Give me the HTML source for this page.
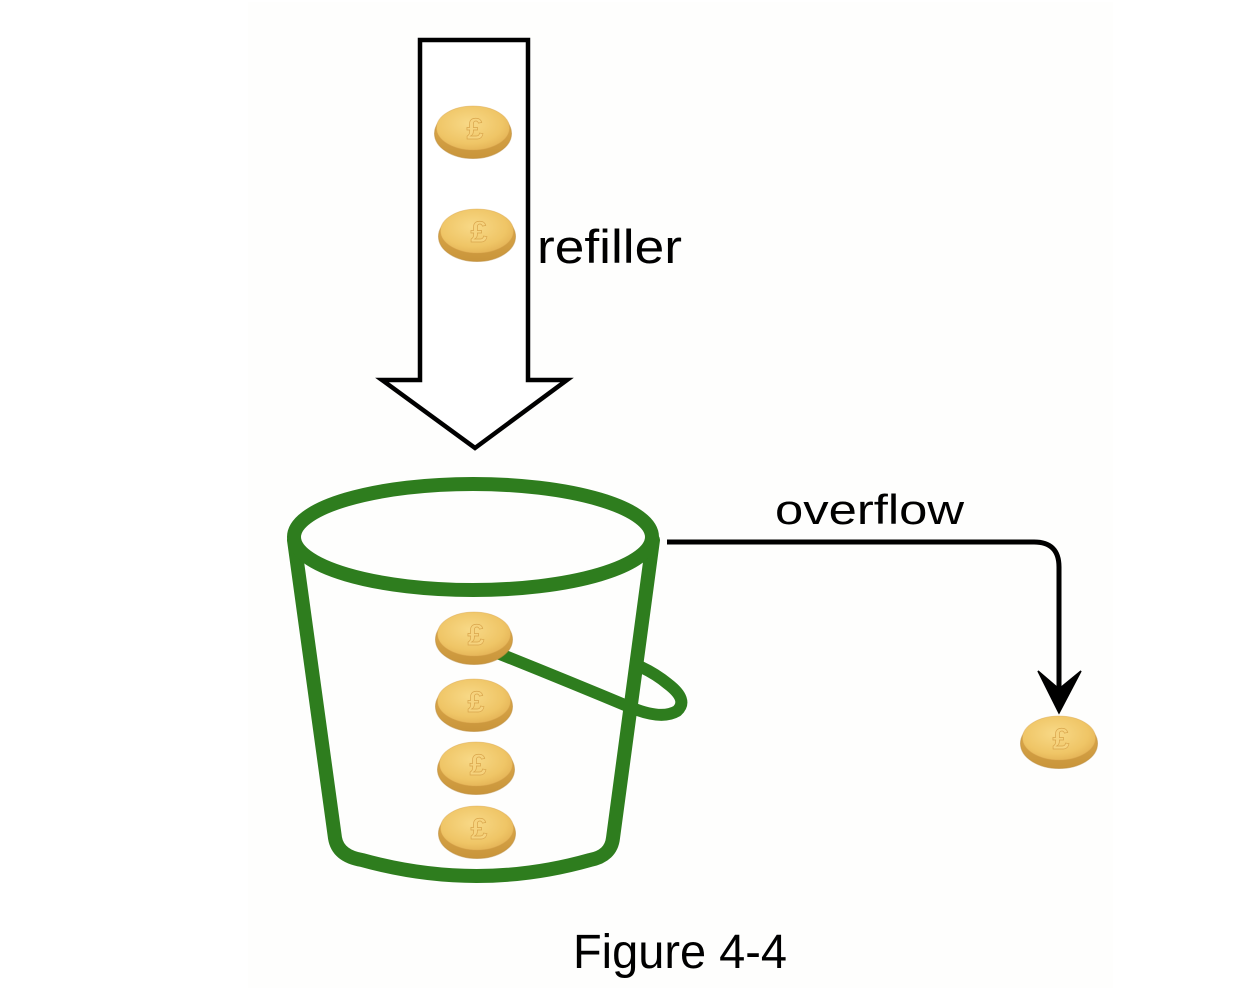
<!DOCTYPE html>
<html>
<head>
<meta charset="utf-8">
<style>
  html, body { margin: 0; padding: 0; background: #ffffff; }
  body { width: 1250px; height: 1000px; overflow: hidden; }
  svg { display: block; }
  text { font-family: "Liberation Sans", Arial, sans-serif; fill: #000; }
</style>
</head>
<body>
<svg width="1250" height="1000" viewBox="0 0 1250 1000" xmlns="http://www.w3.org/2000/svg">
  <defs>
    <radialGradient id="face" cx="45%" cy="40%" r="65%">
      <stop offset="0%" stop-color="#f8d987"/>
      <stop offset="70%" stop-color="#efc566"/>
      <stop offset="100%" stop-color="#e3b154"/>
    </radialGradient>
    <linearGradient id="edge" x1="0" y1="0" x2="0" y2="1">
      <stop offset="0%" stop-color="#e0ad4e"/>
      <stop offset="100%" stop-color="#c9953b"/>
    </linearGradient>
    <g id="coin">
      <ellipse cx="0" cy="3.5" rx="38.5" ry="25" fill="url(#edge)" stroke="#b98a3a" stroke-opacity="0.55" stroke-width="1"/>
      <ellipse cx="0" cy="-2" rx="36.5" ry="22" fill="url(#face)" stroke="#d9a650" stroke-opacity="0.5" stroke-width="0.8"/>
      <text x="2" y="9" font-size="30" text-anchor="middle" style="fill:#f6d37e;stroke:#d9a54c;stroke-width:0.7;font-weight:bold;">£</text>
    </g>
  </defs>

  <!-- subtle background panel -->
  <rect x="248" y="2" width="865" height="986" fill="#fefefd"/>

  <!-- refill block arrow -->
  <polygon points="420,40 528,40 528,380 567,380 475,448 382,380 420,380"
           fill="#ffffff" stroke="#000" stroke-width="4.5" stroke-linejoin="miter"/>

  <use href="#coin" x="473" y="130"/>
  <use href="#coin" x="477" y="233"/>

  <text x="537" y="263" font-size="47" textLength="145" lengthAdjust="spacingAndGlyphs">refiller</text>

  <!-- bucket -->
  <g fill="none" stroke="#2e7d1e" stroke-linecap="round" stroke-linejoin="round">
    <!-- handle -->
    <path stroke-width="12" d="M 495 652 Q 565 680 632 708 Q 662 720 677 711 Q 689 700 668 684 Q 656 674 641 667"/>
    <!-- body -->
    <path stroke-width="14" d="M 294 540 L 335 838 Q 338 856 362 860 Q 477 892 590 860 Q 611 856 613 838 L 653 540"/>
    <!-- rim -->
    <ellipse stroke-width="14" cx="473" cy="537" rx="179" ry="53"/>
  </g>

  <use href="#coin" x="474" y="636"/>
  <use href="#coin" x="474" y="703"/>
  <use href="#coin" x="476" y="766"/>
  <use href="#coin" x="477" y="830"/>

  <!-- overflow connector -->
  <path d="M 667 542 H 1034 Q 1059 542 1059 567 V 695" fill="none" stroke="#000" stroke-width="5"/>
  <path d="M 1059 713 L 1038 671 L 1059 689 L 1081 671 Z" fill="#000" stroke="#000" stroke-width="1.5" stroke-linejoin="miter"/>

  <text x="775" y="524" font-size="42" textLength="189" lengthAdjust="spacingAndGlyphs">overflow</text>

  <use href="#coin" x="1059" y="740"/>

  <text x="573" y="968" font-size="48" textLength="214" lengthAdjust="spacingAndGlyphs">Figure 4-4</text>
</svg>
</body>
</html>
